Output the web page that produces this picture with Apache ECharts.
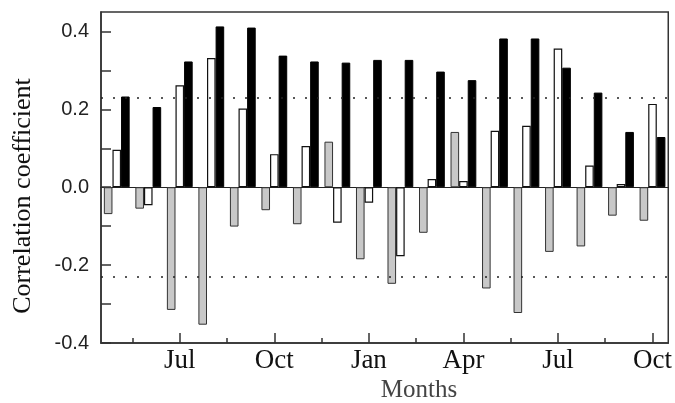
<!DOCTYPE html>
<html>
<head>
<meta charset="utf-8">
<script src="https://cdn.jsdelivr.net/npm/echarts@6/dist/echarts.min.js"></script>
<style>html,body{margin:0;padding:0;background:#fff}#c{width:675px;height:403px}</style>
</head>
<body>
<div id="c"></div>
<script>
var months = ['May','Jun','Jul','Aug','Sep','Oct','Nov','Dec','Jan','Feb','Mar','Apr','May','Jun','Jul','Aug','Sep','Oct'];
var grayVals  = [-0.069, -0.055, -0.315, -0.353, -0.101, -0.059, -0.095, 0.117, -0.185, -0.248, -0.117, 0.142, -0.260, -0.323, -0.166, -0.152, -0.073, -0.086];
var whiteVals = [0.096, -0.046, 0.262, 0.332, 0.202, 0.085, 0.106, -0.091, -0.040, -0.177, 0.021, 0.016, 0.145, 0.158, 0.356, 0.056, 0.008, 0.214];
var blackVals = [0.233, 0.206, 0.323, 0.413, 0.410, 0.338, 0.323, 0.320, 0.327, 0.327, 0.297, 0.275, 0.382, 0.382, 0.307, 0.243, 0.142, 0.129];
var labelIdx = [2, 5, 8, 11, 14, 17];
var minorTickPos = [1, 4, 7, 10, 13, 16];
var yTickVals = [-0.4, -0.3, -0.2, -0.1, 0, 0.1, 0.2, 0.3, 0.4];
var yLabelVals = [-0.4, -0.2, 0, 0.2, 0.4];
var sigLevel = 0.23;

var chart = echarts.init(document.getElementById('c'));
var serif = 'Liberation Serif';
var sans = 'Liberation Sans';
chart.setOption({
  animation: false,
  grid: {left: 101, right: 6, top: 12, bottom: 60, show: true, borderColor: '#333', borderWidth: 1.5, backgroundColor: 'transparent'},
  xAxis: [
    {type: 'category', data: months, boundaryGap: true, position: 'bottom',
     axisLine: {show: true, onZero: true, lineStyle: {color: '#222', width: 1.2}},
     axisTick: {show: false}, axisLabel: {show: false}, splitLine: {show: false}},
    {type: 'value', min: 0, max: months.length, position: 'bottom',
     axisLine: {show: true, onZero: false, lineStyle: {color: '#333', width: 1.5}},
     axisTick: {show: true, inside: true, length: 10, customValues: labelIdx.map(function(i){return i + 0.5;}), lineStyle: {color: '#333', width: 1.5}},
     axisLabel: {show: true, customValues: labelIdx.map(function(i){return i + 0.5;}), margin: 4,
       formatter: function(v){ return months[Math.round(v - 0.5)]; },
       fontFamily: serif, fontSize: 27, color: '#111'},
     splitLine: {show: false}},
    {type: 'value', min: 0, max: months.length, position: 'bottom',
     axisLine: {show: false, onZero: false},
     axisTick: {show: true, inside: true, length: 5, customValues: minorTickPos, lineStyle: {color: '#333', width: 1.5}},
     axisLabel: {show: false}, splitLine: {show: false}}
  ],
  yAxis: {type: 'value', min: -0.4, max: 0.45,
    axisLine: {show: true, lineStyle: {color: '#333', width: 1.5}},
    axisTick: {show: true, inside: true, length: 10, customValues: yTickVals, lineStyle: {color: '#333', width: 1.5}},
    axisLabel: {customValues: yLabelVals, formatter: function(v){ return v.toFixed(1); }, fontFamily: sans, fontSize: 20, color: '#222', margin: 12},
    splitLine: {show: false}},
  series: [
    {type: 'bar', xAxisIndex: 0, data: grayVals, barWidth: 8.6, barGap: '0%',
     itemStyle: {color: '#c8c8c8', borderColor: '#333', borderWidth: 1},
     markLine: {silent: true, symbol: 'none', label: {show: false},
       lineStyle: {color: '#222', type: [2, 10], width: 1.5},
       data: [{yAxis: sigLevel}, {yAxis: -sigLevel}]}},
    {type: 'bar', xAxisIndex: 0, data: whiteVals, barWidth: 8.6, barGap: '0%',
     itemStyle: {color: '#ffffff', borderColor: '#111', borderWidth: 1.2}},
    {type: 'bar', xAxisIndex: 0, data: blackVals, barWidth: 8.6, barGap: '0%',
     itemStyle: {color: '#000000', borderColor: '#000', borderWidth: 1}}
  ],
  graphic: [
    {type: 'text', x: 23, y: 196, rotation: Math.PI / 2,
     style: {text: 'Correlation coefficient', fontFamily: serif, fontSize: 26, fill: '#111', align: 'center', verticalAlign: 'middle'}},
    {type: 'text', x: 419, y: 390,
     style: {text: 'Months', fontFamily: serif, fontSize: 25, fill: '#444', align: 'center', verticalAlign: 'middle'}}
  ]
});
</script>
</body>
</html>
